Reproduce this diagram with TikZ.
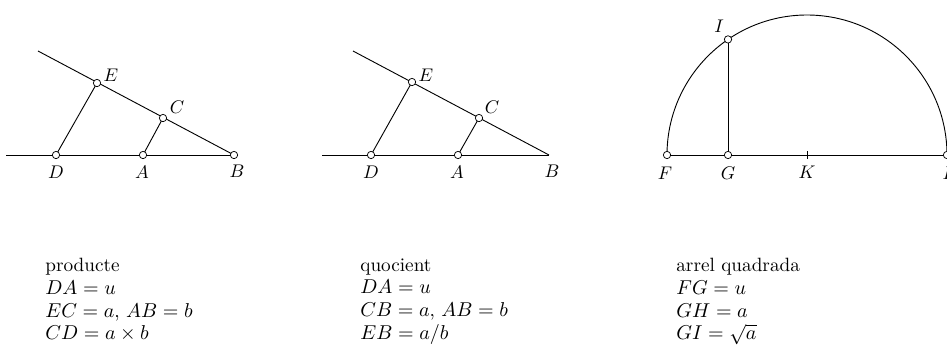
\documentclass[tikz,border=0pt]{standalone}
\usepackage{tikz}
\usetikzlibrary{positioning,calc}

\begin{document}
\begin{tikzpicture}[x=0.0192cm, y=-0.0192cm,
  every node/.style={font=\normalsize},
  seg/.style={line width=0.5pt},
  pt/.style={circle, draw, fill=white, inner sep=0pt, minimum size=4pt, line width=0.4pt},
  lbl/.style={inner sep=1pt},
  txt/.style={anchor=north west, align=left, font={\fontsize{10.5}{12.4}\selectfont}, inner sep=0pt}
]
  \useasboundingbox (0,0) rectangle (947,347);

  % producte
  \coordinate (s1) at (38,51);
  \coordinate (h1) at (6,155);
  \coordinate (D1) at (56,155);
  \coordinate (A1) at (143,155);
  \coordinate (B1) at (234,155);
  \coordinate (E1) at (97,83);
  \coordinate (C1) at (163,118);
  \draw[seg] (s1) -- (B1);
  \draw[seg] (h1) -- (B1);
  \draw[seg] (D1) -- (E1);
  \draw[seg] (A1) -- (C1);
  \foreach \p in {D1,A1,B1,E1,C1} \node[pt] (m\p) at (\p) {};
  \node[lbl] (lE1) at (111,75) {$E$};
  \node[lbl] (lC1) at (177,107) {$C$};
  \node[lbl] (lD1) at (56,172) {$D$};
  \node[lbl] (lA1) at (142,172) {$A$};
  \node[lbl] (lB1) at (237,171) {$B$};

  % quocient
  \coordinate (s2) at (353,51);
  \coordinate (h2) at (322,155);
  \coordinate (D2) at (371,155);
  \coordinate (A2) at (458,155);
  \coordinate (B2) at (549,155);
  \coordinate (E2) at (412,82);
  \coordinate (C2) at (479,118);
  \draw[seg] (s2) -- (B2);
  \draw[seg] (h2) -- (B2);
  \draw[seg] (D2) -- (E2);
  \draw[seg] (A2) -- (C2);
  \foreach \p in {D2,A2,E2,C2} \node[pt] (m\p) at (\p) {};
  \node[lbl] (lE2) at (426,75) {$E$};
  \node[lbl] (lC2) at (492,107) {$C$};
  \node[lbl] (lD2) at (371,172) {$D$};
  \node[lbl] (lA2) at (457,172) {$A$};
  \node[lbl] (lB2) at (552,171) {$B$};

  % arrel quadrada
  \coordinate (F) at (667,155);
  \coordinate (G) at (728,155);
  \coordinate (K) at (807,155);
  \coordinate (H) at (947,155);
  \coordinate (I) at (728,39.4);
  \draw[seg] (F) arc[start angle=180, end angle=360, radius=140];
  \draw[seg] (F) -- (H);
  \draw[seg] (G) -- (I);
  \draw[seg] ($(K)+(0,-4)$) -- ($(K)+(0,4)$);
  \foreach \p in {F,G,H,I} \node[pt] (m\p) at (\p) {};
  \node[lbl] (lI) at (719,26) {$I$};
  \node[lbl] (lF) at (665,173) {$F$};
  \node[lbl] (lG) at (728,173) {$G$};
  \node[lbl] (lK) at (807,172) {$K$};
  \node[lbl] (lH) at (951,173) {$H$};

  % texts
  \node[txt] (t1) at (45,258) {producte\\ $DA=u$\\ $EC=a$, $AB=b$\\ $CD=a\times b$};
  \node[txt] (t2) at (360,258) {quocient\\ $DA=u$\\ $CB=a$, $AB=b$\\ $EB=a/b$};
  \node[txt] (t3) at (676,258) {arrel quadrada\\ $FG=u$\\ $GH=a$\\ $GI=\sqrt{a}$};
\end{tikzpicture}
\end{document}
